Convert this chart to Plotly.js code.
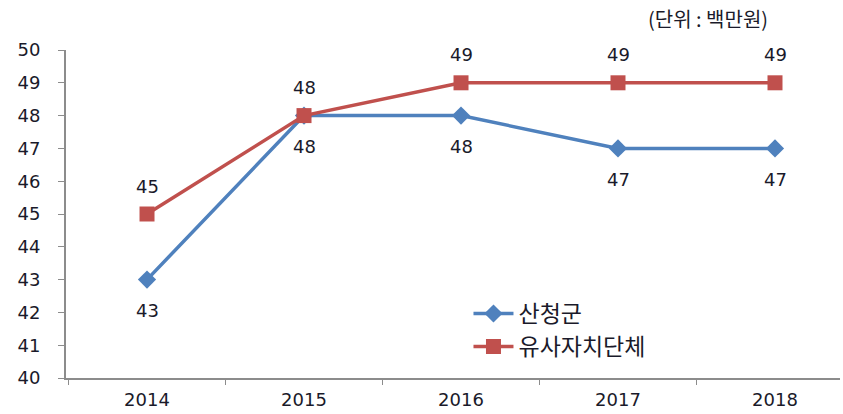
<!DOCTYPE html>
<html>
<head>
<meta charset="utf-8">
<script src="https://cdn.plot.ly/plotly-3.0.1.min.js"></script>
<style>html,body{margin:0;padding:0;background:#fff;}#chart{width:843px;height:414px;}</style>
</head>
<body>
<div id="chart"></div>
<script>
const years = ["2014", "2015", "2016", "2017", "2018"];
const sancheong = [43, 48, 48, 47, 47];
const similar = [45, 48, 49, 49, 49];
const seriesNames = ["산청군", "유사자치단체"];
const unitLabel = "(단위 : 백만원)";

const numFont = {family: "DejaVu Sans", size: 18, color: "#1a1a2a"};
const korFont = {family: "Noto Sans CJK KR", size: 23, color: "#1a1a2a"};

const traces = [
  {
    x: years, y: sancheong, name: seriesNames[0], type: "scatter", mode: "lines+markers",
    line: {color: "#4F81BD", width: 3.5},
    marker: {symbol: "diamond", size: 14, color: "#4F81BD"},
    cliponaxis: false
  },
  {
    x: years, y: similar, name: seriesNames[1], type: "scatter", mode: "lines+markers",
    line: {color: "#C0504D", width: 3.5},
    marker: {symbol: "square", size: 15, color: "#C0504D"},
    cliponaxis: false
  }
];

const labelAnns = [];
years.forEach((yr, i) => {
  labelAnns.push({x: i, y: sancheong[i], xref: "x", yref: "y", text: String(sancheong[i]),
    showarrow: false, yshift: -31, font: numFont});
  labelAnns.push({x: i, y: similar[i], xref: "x", yref: "y", text: String(similar[i]),
    showarrow: false, yshift: 28, font: numFont});
});

const layout = {
  width: 843, height: 414,
  margin: {l: 66, r: 3, t: 50, b: 36},
  paper_bgcolor: "#fff", plot_bgcolor: "#fff",
  showlegend: true,
  legend: {
    x: 0.52, y: 0.262, xanchor: "left", yanchor: "top",
    font: korFont, bgcolor: "rgba(0,0,0,0)", tracegroupgap: 2, itemwidth: 40
  },
  xaxis: {
    type: "category", range: [-0.516, 4.414],
    showline: true, linecolor: "#8c8c8c", linewidth: 2,
    ticks: "outside", tickson: "boundaries", ticklen: 5, tickcolor: "#8c8c8c",
    showgrid: false, zeroline: false,
    tickfont: numFont, fixedrange: true, ticklabelstandoff: 4
  },
  yaxis: {
    range: [40, 50], dtick: 1, tick0: 40,
    showline: true, linecolor: "#8c8c8c", linewidth: 2,
    ticks: "outside", ticklen: 6, tickcolor: "#8c8c8c",
    showgrid: false, zeroline: false,
    tickfont: numFont, fixedrange: true, ticklabelstandoff: 14
  },
  annotations: labelAnns.concat([
    {text: unitLabel, xref: "paper", yref: "paper", x: (770 - 66) / 774, y: 1.0, xanchor: "right", yanchor: "middle",
     yshift: 32, showarrow: false, font: {family: "Noto Sans CJK KR", size: 20, color: "#1a1a2a"}}
  ])
};

Plotly.newPlot("chart", traces, layout, {displayModeBar: false, staticPlot: true});
</script>
</body>
</html>
